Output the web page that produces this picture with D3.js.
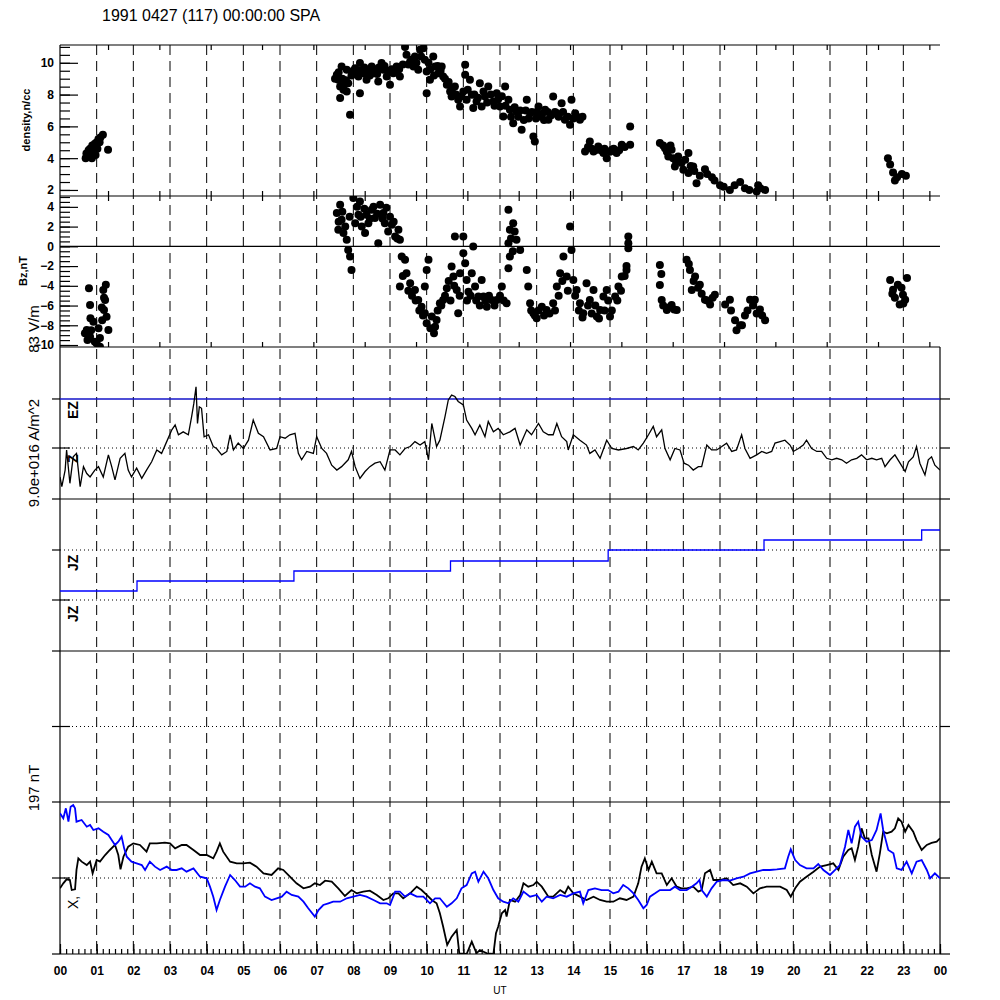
<!DOCTYPE html>
<html>
<head>
<meta charset="utf-8">
<script src="https://cdn.jsdelivr.net/npm/d3@7"></script>
<style>
  html, body { margin: 0; padding: 0; background: #fff; }
  svg { display: block; font-family: "Liberation Sans", Arial, sans-serif; }
</style>
</head>
<body>
<div id="chart"></div>
<script>
// ---- data (time in UT hours) ----
const hourLabels = ["00","01","02","03","04","05","06","07","08","09","10","11","12",
                    "13","14","15","16","17","18","19","20","21","22","23","00"];
const denTicks = [2, 4, 6, 8, 10];
const bzTicks = [-10, -8, -6, -4, -2, 0, 2, 4];

// density, n/cc
const density = [
  [0.70,4.0],[0.72,4.3],[0.75,4.1],[0.78,4.5],[0.80,4.2],[0.82,4.6],[0.85,4.4],[0.87,4.0],[0.88,4.8],[0.90,4.3],
  [0.92,4.5],[0.95,4.9],[0.97,4.2],[1.00,5.0],[1.02,4.6],[1.05,5.2],[1.08,5.0],[1.10,5.3],[1.17,5.47],[1.31,4.53],
  [7.55,9.25],[7.59,8.93],[7.64,8.51],[7.68,9.77],[7.73,8.30],[7.82,8.20],[7.64,7.78],[7.91,6.73],[7.82,9.56],[7.86,8.72],
  [8.05,9.66],[8.18,9.98],[8.14,9.14],[8.18,8.09],[8.27,9.35],[8.36,8.93],[8.41,9.56],[8.50,9.77],[8.55,9.35],[8.68,8.83],
  [8.77,9.98],[8.82,9.56],[8.91,9.14],[9.00,8.62],[9.09,9.35],[9.18,9.77],[9.27,9.14],[9.41,11.0],[9.45,10.5],[9.55,10.08],
  [9.64,9.77],[9.68,10.4],[9.77,9.56],[9.82,10.82],[9.91,10.92],[9.95,10.19],[10.0,9.45],[10.0,8.09],[10.09,8.93],[10.18,10.4],
  [10.23,9.77],[10.32,9.35],[10.41,9.77],[10.45,9.14],[10.55,8.62],[10.64,8.2],[10.68,7.88],[10.77,8.51],[10.86,7.67],[10.91,7.25],
  [11.0,8.2],[11.05,9.87],[11.05,9.25],[11.09,7.67],[11.18,8.93],[11.23,7.99],[11.27,7.15],[11.36,7.57],[11.45,8.72],[11.5,7.25],
  [11.59,7.88],[11.68,8.51],[11.82,7.57],[11.91,8.09],[12.0,7.25],[12.14,8.51],[12.23,7.67],[12.09,6.62],[12.27,7.04],[12.36,6.2],
  [12.45,6.94],[12.59,5.79],[12.73,7.67],[12.82,6.83],[12.91,5.37],[12.95,5.05],[13.05,7.25],[13.09,6.62],[13.23,7.04],[13.32,6.41],
  [13.45,7.88],[13.55,6.83],[13.68,7.46],[13.77,6.41],[13.91,6.1],[13.95,7.67],[14.05,6.83],[14.18,6.41],
  [7.5,9.0],[7.6,9.4],[7.7,9.0],[7.75,8.6],[7.8,8.9],[7.95,9.2],[8.0,9.5],[8.1,9.3],[8.2,9.5],[8.3,9.7],
  [8.45,9.2],[8.6,9.6],[8.65,9.3],[8.7,9.7],[8.85,9.8],[8.95,9.5],[9.05,9.6],[9.15,9.4],[9.25,9.6],[9.35,9.9],
  [9.5,9.9],[9.6,10.2],[9.72,10.0],[9.85,10.4],[10.05,10.0],[10.1,9.6],[10.2,9.2],[10.3,9.8],[10.38,9.5],[10.5,9.0],
  [10.6,8.8],[10.7,8.4],[10.8,8.0],[10.95,7.9],[11.12,8.3],[11.3,8.0],[11.4,7.8],[11.55,8.2],[11.65,7.5],[11.75,8.0],
  [11.85,7.3],[11.95,7.7],[12.05,7.9],[12.15,7.3],[12.3,6.6],[12.4,7.2],[12.5,6.6],[12.55,7.0],[12.65,6.4],[12.7,7.0],
  [12.78,6.5],[12.87,6.9],[12.98,6.5],[13.0,6.9],[13.15,6.8],[13.2,6.4],[13.3,6.9],[13.4,6.7],[13.5,6.9],[13.6,6.6],
  [13.72,6.9],[13.85,6.6],[14.0,6.5],[14.1,6.6],[14.25,6.6],
  [14.32,4.42],[14.45,5.05],[14.55,4.42],[14.68,4.74],[14.82,4.32],[14.91,4.0],[15.05,4.53],[15.18,4.32],[15.32,4.84],[15.55,4.84],[15.55,6.0],
  [14.4,4.7],[14.5,4.6],[14.6,4.5],[14.75,4.5],[14.85,4.6],[15.0,4.4],[15.1,4.6],[15.25,4.5],[15.4,4.7],
  [16.36,4.95],[16.5,4.63],[16.59,4.11],[16.68,4.53],[16.77,3.48],[16.86,4.11],[17.0,3.27],[17.14,3.06],[17.14,4.32],[17.27,3.48],[17.36,2.43],
  [16.45,4.8],[16.55,4.4],[16.65,4.8],[16.72,4.0],[16.8,3.8],[16.95,3.7],[17.05,3.9],[17.2,3.5],[17.3,3.2],[17.45,2.9],
  [17.59,3.3],[17.78,2.8],[18.0,2.3],[18.27,2.0],[18.55,2.5],[18.68,2.1],[19.0,1.9],[19.04,2.3],[19.23,2.0],
  [17.65,3.0],[17.85,2.6],[18.1,2.2],[18.4,2.3],[18.8,2.0],[19.1,2.1],
  [22.58,4.0],[22.64,3.6],[22.72,3.1],[22.77,2.6],[22.83,2.8],[22.96,3.0],[23.07,2.9]
];

// Bz, nT
const bz = [
  [0.79,-4.24],[0.82,-5.94],[0.83,-7.29],[0.73,-8.48],[0.82,-9.16],[1.0,-9.83],[1.09,-9.3],[0.91,-7.63],[1.18,-4.42],[1.25,-3.9],
  [1.23,-5.43],[1.2,-6.45],[1.27,-7.13],[1.32,-8.48],[1.14,-6.2],[0.68,-8.8],[1.05,-8.3],[0.95,-9.66],[1.09,-10.17],
  [0.75,-9.5],[0.85,-8.5],[1.15,-7.5],[1.2,-5.2],
  [7.55,3.37],[7.59,1.67],[7.64,4.21],[7.68,2.69],[7.73,1.34],[7.82,0.66],[7.86,-0.36],[7.91,-1.03],[7.95,-2.39],[8.0,4.89],
  [8.05,2.35],[8.14,3.2],[8.18,4.55],[8.23,2.01],[8.32,1.34],[8.36,3.2],[8.41,2.35],[8.5,3.71],[8.59,2.86],[8.68,0.32],
  [8.73,4.21],[8.82,3.37],[8.86,2.35],[8.95,1.51],[9.05,2.18],[9.14,1.0],[9.23,1.67],[9.27,0.66],[9.32,-1.03],[9.41,-1.37],
  [9.27,-4.08],[9.45,-2.73],[9.55,-3.74],[9.68,-4.42],[9.77,-5.43],[9.86,-6.11],[9.95,-6.78],[10.05,-1.37],[10.0,-2.39],[9.95,-4.08],
  [10.14,-7.12],[10.23,-8.14],[10.27,-7.46],[10.36,-5.77],[10.45,-5.43],[10.55,-4.25],[10.68,-2.05],[10.73,-3.06],[10.77,1.0],[10.82,-4.42],
  [10.86,-6.78],[10.91,-2.73],[11.0,1.0],[11.0,-0.69],[11.05,-1.71],[11.09,-3.4],[11.14,-4.59],[11.23,-2.73],[11.27,-0.02],[11.32,-4.08],
  [11.41,-5.09],[11.5,-3.4],[11.55,-5.09],[11.64,-6.11],[11.77,-5.43],[11.91,-5.43],[12.05,-4.08],[12.18,-5.77],[12.23,3.71],[12.27,1.67],
  [12.23,0.32],[12.27,-1.03],[12.36,2.35],[12.45,0.66],[12.55,-0.36],[12.23,-2.22],[12.73,-2.39],[12.77,-4.08],[12.82,-5.77],[12.91,-6.78],
  [13.0,-7.29],[13.14,-6.11],[13.27,-6.45],[13.45,-5.77],[13.55,-4.08],[13.64,-2.73],[13.73,-1.03],[13.82,-3.06],[13.91,2.01],[13.95,-0.36],
  [14.0,-3.4],[14.09,-4.42],[14.18,-5.77],[14.27,-6.78],[14.36,-3.74],[14.45,-5.43],[14.55,-4.42],[14.64,-7.12],[14.73,-6.45],[14.82,-5.09],
  [14.91,-4.42],[15.0,-7.12],[15.14,-5.09],[15.23,-4.08],[15.32,-3.06],[15.45,-2.39],[15.5,1.0],[15.5,-0.19],
  [7.6,2.5],[7.7,3.5],[7.78,2.0],[7.9,3.0],[8.1,4.0],[8.2,3.0],[8.3,3.8],[8.45,2.8],[8.55,4.0],[8.65,3.3],
  [8.8,2.8],[8.9,3.9],[9.0,3.0],[9.1,2.5],[9.2,0.8],[9.35,-3.0],[9.5,-4.5],[9.6,-5.0],[9.7,-5.5],[9.8,-6.5],
  [9.9,-7.0],[10.0,-7.8],[10.1,-8.3],[10.2,-8.8],[10.3,-6.5],[10.4,-6.0],[10.5,-5.0],[10.6,-3.5],[10.65,-5.5],[10.75,-4.0],
  [10.9,-5.0],[11.1,-5.5],[11.2,-5.0],[11.35,-5.5],[11.45,-6.0],[11.6,-5.5],[11.7,-5.0],[11.85,-6.0],[12.0,-5.0],[12.1,-5.5],
  [12.3,0.8],[12.35,-0.5],[12.4,1.5],[12.85,-6.5],[12.95,-7.0],[13.05,-6.5],[13.2,-7.0],[13.35,-6.8],[13.5,-6.5],[13.6,-5.0],
  [13.7,-3.5],[13.85,-4.5],[14.05,-5.0],[14.15,-6.5],[14.25,-7.2],[14.4,-6.0],[14.5,-6.8],[14.6,-6.0],[14.7,-7.3],[14.85,-6.5],
  [14.95,-5.5],[15.05,-6.5],[15.2,-5.5],[15.3,-4.5],[15.4,-3.0],[15.45,-2.0],[15.5,0.3],
  [16.36,-1.88],[16.36,-3.91],[16.41,-5.43],[16.55,-6.45],[16.68,-5.94],[16.82,-6.45],[17.09,-1.37],[17.18,-2.39],[17.23,-4.42],[17.32,-3.06],
  [16.4,-2.8],[16.45,-6.0],[16.6,-6.2],[16.75,-6.4],[17.15,-1.8],[17.28,-3.5],[17.4,-4.2],[17.5,-4.8],[17.65,-5.5],[17.8,-5.2],
  [17.45,-3.9],[17.59,-5.4],[17.73,-5.9],[17.86,-4.9],[18.14,-5.9],[18.27,-5.4],[18.41,-7.5],[18.55,-8.0],[18.68,-7.0],[18.82,-5.4],
  [18.95,-5.4],[19.09,-6.4],[19.23,-7.5],[18.3,-6.5],[18.45,-8.5],[18.6,-8.0],[18.75,-6.5],[18.9,-6.0],[19.0,-6.8],[19.15,-7.0],
  [22.64,-3.4],[22.72,-4.4],[22.85,-3.9],[22.99,-4.9],[23.05,-5.4],[23.1,-3.2],[22.77,-5.2],[22.9,-5.9],[22.7,-4.8],[22.95,-4.2],[23.0,-5.8]
];

// EZ trace (dotted reference = 0, blue reference = 1)
const ez = [
  [0,-0.59],[0.05,-0.79],[0.14,-0.45],[0.18,-0.04],[0.27,-0.72],[0.36,-0.18],[0.45,-0.11],[0.55,-0.79],[0.64,-0.38],[0.73,-0.52],
  [0.82,-0.59],[0.95,-0.45],[1.05,-0.38],[1.18,-0.59],[1.32,-0.14],[1.41,-0.38],[1.5,-0.65],[1.64,-0.21],[1.77,-0.11],[1.86,-0.45],
  [1.95,-0.59],[2.09,-0.41],[2.23,-0.62],[2.36,-0.45],[2.5,-0.28],[2.64,-0.04],[2.77,-0.11],[2.91,0.13],[3.05,0.37],[3.14,0.47],
  [3.23,0.27],[3.36,0.33],[3.5,0.27],[3.59,0.64],[3.65,0.91],[3.71,1.25],[3.75,0.5],[3.8,0.84],[3.86,0.81],[3.93,0.23],
  [4.05,0.27],[4.18,0.03],[4.27,-0.01],[4.41,-0.14],[4.55,-0.07],[4.64,0.27],[4.73,-0.04],[4.86,0.10],[5.0,-0.01],[5.14,0.16],
  [5.27,0.57],[5.41,0.30],[5.55,0.23],[5.73,-0.04],[5.91,-0.01],[6.0,0.23],[6.14,0.20],[6.27,0.27],[6.41,0.30],[6.5,-0.11],
  [6.59,-0.24],[6.73,-0.07],[6.91,-0.11],[7.0,0.23],[7.14,-0.01],[7.27,-0.11],[7.41,-0.35],[7.55,-0.45],[7.68,-0.38],[7.86,-0.24],
  [7.95,-0.07],[8.05,-0.38],[8.18,-0.62],[8.32,-0.48],[8.45,-0.38],[8.59,-0.31],[8.73,-0.28],[8.86,-0.45],[9.0,-0.04],[9.14,-0.04],
  [9.27,-0.14],[9.41,-0.01],[9.55,0.03],[9.68,0.13],[9.82,0.06],[9.95,0.13],[10.05,-0.24],[10.14,0.50],[10.27,0.03],[10.36,0.16],
  [10.5,0.64],[10.59,0.98],[10.68,1.08],[10.77,1.05],[10.86,0.95],[11.0,0.88],[11.09,0.57],[11.23,0.40],[11.32,0.27],
  [11.45,0.47],[11.59,0.23],[11.68,0.54],[11.82,0.33],[11.95,0.40],[12.09,0.27],[12.27,0.33],[12.41,0.40],[12.55,0.06],[12.73,0.37],
  [12.86,0.27],[13.05,0.50],[13.18,0.33],[13.32,0.27],[13.45,0.27],[13.55,0.50],[13.68,0.23],[13.82,0.13],[13.86,-0.04],[14.0,0.27],
  [14.18,0.16],[14.36,0.06],[14.45,-0.11],[14.59,-0.04],[14.73,-0.21],[14.91,0.16],[15.05,-0.01],[15.23,-0.04],[15.45,-0.01],[15.64,0.03],
  [15.77,-0.04],[15.91,0.10],[16.05,0.27],[16.18,0.44],[16.27,0.23],[16.41,0.37],[16.5,-0.01],[16.64,-0.24],[16.77,-0.01],[16.91,-0.04],
  [17.02,-0.31],[17.14,-0.35],[17.27,-0.45],[17.41,-0.38],[17.5,-0.38],[17.64,0.06],[17.77,-0.04],[17.91,-0.04],[18.05,0.03],[18.18,0.10],
  [18.32,-0.07],[18.45,-0.04],[18.59,0.27],[18.68,-0.01],[18.82,-0.21],[19.0,-0.14],[19.14,-0.07],[19.27,-0.11],[19.41,-0.07],[19.5,0.10],
  [19.64,0.13],[19.77,0.16],[19.91,0.06],[20.0,-0.07],[20.14,-0.01],[20.27,0.06],[20.36,0.16],[20.5,-0.01],[20.64,-0.07],[20.77,-0.07],
  [20.91,-0.21],[21.05,-0.24],[21.18,-0.21],[21.32,-0.24],[21.45,-0.31],[21.59,-0.24],[21.73,-0.21],[21.86,-0.14],[22.0,-0.24],[22.14,-0.21],
  [22.27,-0.24],[22.41,-0.21],[22.5,-0.38],[22.64,-0.24],[22.77,-0.14],[22.91,-0.31],[23.05,-0.48],[23.14,-0.28],[23.27,-0.18],[23.36,0.03],
  [23.45,-0.31],[23.59,-0.55],[23.68,-0.24],[23.77,-0.18],[23.86,-0.35],[24.0,-0.45]
];

// JZ step trace: level starts at each time
const jzTimes = [0, 2.1, 6.38, 10.65, 14.95, 19.2, 23.5, 24];
const jzLevels = [0.18, 0.38, 0.58, 0.78, 1.0, 1.2, 1.4, 1.4];

// magnetometer X component, nT (black) and second trace (blue)
const magBlack = [
  [0,-13.4],[0.09,-6.9],[0.18,-1.7],[0.27,-2.6],[0.32,-15.6],[0.41,-14.7],[0.45,10.4],[0.5,25.5],[0.59,21.2],[0.73,16.8],
  [0.82,21.2],[0.89,6.0],[1.0,23.3],[1.09,21.2],[1.23,29.8],[1.36,36.3],[1.5,42.8],[1.59,29.8],[1.65,11.2],[1.73,27.6],
  [1.86,40.6],[2.0,44.9],[2.18,42.8],[2.36,34.1],[2.45,44.9],[2.64,44.9],[2.86,45.8],[3.0,44.9],[3.14,38.4],[3.32,42.8],
  [3.45,42.8],[3.64,36.3],[3.82,29.8],[4.0,29.8],[4.18,25.5],[4.27,34.1],[4.36,44.9],[4.45,34.1],[4.64,21.2],[4.82,19.0],
  [5.0,19.0],[5.18,19.9],[5.36,14.7],[5.55,6.0],[5.77,3.9],[5.95,12.5],[6.09,10.4],[6.27,1.7],[6.45,-6.9],[6.64,-13.4],
  [6.82,-11.2],[6.95,-6.9],[7.09,-9.1],[7.23,-3.5],[7.41,-4.8],[7.59,-13.4],[7.77,-23.3],[7.95,-15.6],[8.09,-19.9],[8.27,-17.7],
  [8.45,-16.4],[8.64,-22.0],[8.82,-28.5],[8.95,-26.3],[9.09,-19.9],[9.23,-19.9],[9.36,-26.3],[9.55,-19.9],[9.73,-11.2],[9.86,-15.6],
  [10.0,-22.0],[10.14,-28.5],[10.27,-32.8],[10.36,-45.8],[10.45,-63.1],[10.56,-86.8],[10.68,-76.0],[10.82,-67.4],[10.89,-97.6],[11.09,-98.5],
  [11.23,-82.5],[11.36,-97.6],[11.45,-93.3],[11.64,-97.6],[11.82,-98.5],[11.89,-71.7],[11.95,-63.1],[12.05,-45.8],[12.14,-41.5],[12.18,-50.1],
  [12.27,-28.5],[12.41,-30.7],[12.55,-22.0],[12.64,-6.9],[12.77,-11.2],[12.91,-9.1],[13.0,-4.8],[13.14,-11.2],[13.32,-24.2],[13.45,-24.2],
  [13.64,-15.6],[13.77,-19.9],[13.86,-11.2],[14.0,-19.9],[14.18,-24.2],[14.36,-28.5],[14.55,-24.2],[14.73,-28.5],[14.91,-30.7],[15.09,-30.7],
  [15.27,-26.3],[15.45,-28.5],[15.64,-24.2],[15.77,-6.9],[15.86,14.7],[15.95,25.5],[16.05,10.4],[16.14,21.2],[16.27,6.0],[16.41,6.0],
  [16.55,-9.1],[16.68,-0.4],[16.82,-11.2],[16.95,-13.4],[17.09,-13.4],[17.27,-11.2],[17.41,-17.7],[17.5,-15.6],[17.59,6.0],[17.73,10.4],
  [17.82,-2.6],[18.0,-2.6],[18.18,-0.4],[18.36,-9.1],[18.55,-6.9],[18.73,-11.2],[18.91,-19.9],[19.09,-13.4],[19.27,-11.2],[19.45,-11.2],
  [19.64,-11.2],[19.82,-15.6],[19.93,-24.2],[20.05,-13.4],[20.18,-4.8],[20.36,1.7],[20.55,8.2],[20.73,14.7],[20.91,16.8],[21.09,19.0],
  [21.23,10.4],[21.36,27.6],[21.5,36.3],[21.59,38.4],[21.68,23.3],[21.77,40.6],[21.86,64.4],[21.95,51.4],[22.05,51.4],[22.14,29.8],
  [22.27,8.2],[22.36,32.0],[22.45,60.0],[22.55,57.9],[22.68,60.0],[22.77,64.4],[22.86,77.3],[22.95,73.0],[23.05,60.0],[23.14,68.7],
  [23.27,60.0],[23.36,49.2],[23.5,36.3],[23.64,42.8],[23.77,45.4],[23.91,47.1],[24.0,51.4]
];
const magBlue = [
  [0,83.8],[0.09,77.3],[0.16,90.3],[0.23,73.0],[0.29,92.4],[0.36,94.6],[0.41,90.3],[0.45,73.0],[0.59,75.2],[0.73,66.5],
  [0.82,68.7],[0.91,62.2],[1.05,64.4],[1.18,60.0],[1.32,55.7],[1.41,49.2],[1.5,42.8],[1.59,47.1],[1.68,53.6],[1.75,38.4],
  [1.82,27.6],[1.95,21.2],[2.09,19.0],[2.23,16.8],[2.32,10.4],[2.45,21.2],[2.59,14.7],[2.73,10.4],[2.91,14.7],[3.05,10.4],
  [3.18,10.4],[3.32,12.5],[3.45,8.2],[3.64,12.5],[3.82,1.7],[4.0,-0.4],[4.09,-11.2],[4.18,-24.2],[4.27,-41.5],[4.36,-28.5],
  [4.5,-11.2],[4.64,3.9],[4.77,-2.6],[4.91,-11.2],[5.05,-11.2],[5.18,-6.9],[5.32,-11.2],[5.45,-13.4],[5.59,-24.2],[5.77,-28.5],
  [5.91,-26.3],[6.05,-24.2],[6.18,-17.7],[6.32,-22.0],[6.5,-24.2],[6.64,-30.7],[6.77,-39.3],[6.95,-50.1],[7.05,-41.5],[7.18,-35.0],
  [7.32,-32.8],[7.45,-30.7],[7.64,-30.7],[7.82,-26.3],[8.0,-24.2],[8.18,-22.0],[8.36,-24.2],[8.55,-28.5],[8.73,-32.8],[8.91,-32.8],
  [9.0,-35.0],[9.14,-17.7],[9.27,-17.7],[9.41,-24.2],[9.55,-19.9],[9.73,-24.2],[9.91,-24.2],[10.09,-32.8],[10.23,-26.3],[10.36,-26.3],
  [10.55,-37.2],[10.68,-32.8],[10.82,-26.3],[10.95,-13.4],[11.09,-9.1],[11.23,6.0],[11.32,8.2],[11.41,-4.8],[11.55,8.2],[11.68,-0.4],
  [11.82,-15.6],[11.95,-26.3],[12.09,-30.7],[12.23,-32.8],[12.36,-26.3],[12.5,-30.7],[12.64,-17.7],[12.82,-24.2],[13.0,-22.0],[13.14,-30.7],
  [13.27,-24.2],[13.45,-26.3],[13.64,-22.0],[13.82,-24.2],[14.0,-19.9],[14.18,-17.7],[14.27,-32.8],[14.41,-15.6],[14.59,-13.4],[14.77,-15.6],
  [14.95,-15.6],[15.09,-19.9],[15.23,-17.7],[15.36,-9.1],[15.5,-13.4],[15.64,-19.9],[15.77,-28.5],[15.91,-39.3],[16.0,-35.0],[16.09,-24.2],
  [16.23,-19.9],[16.36,-15.6],[16.5,-15.6],[16.64,-15.6],[16.77,-11.2],[16.91,-15.6],[17.09,-15.6],[17.23,-11.2],[17.36,-6.9],[17.44,-2.6],
  [17.5,-15.6],[17.64,-24.2],[17.77,-13.4],[17.91,-4.8],[18.09,-2.6],[18.27,-3.5],[18.45,-0.4],[18.64,1.7],[18.82,6.0],[19.0,8.2],
  [19.18,10.4],[19.36,10.4],[19.55,11.2],[19.77,12.5],[19.86,27.6],[19.93,37.1],[20.05,23.3],[20.18,16.8],[20.36,12.5],[20.55,12.5],
  [20.68,18.1],[20.82,10.4],[21.0,3.9],[21.14,10.4],[21.27,16.8],[21.41,40.6],[21.5,62.2],[21.59,44.9],[21.68,66.5],[21.77,73.0],
  [21.86,53.6],[22.0,47.1],[22.14,49.2],[22.27,62.2],[22.38,83.8],[22.45,62.2],[22.59,36.3],[22.73,32.0],[22.82,12.5],[22.95,10.4],
  [23.09,21.2],[23.23,6.0],[23.36,21.2],[23.5,23.3],[23.64,10.4],[23.73,-0.4],[23.86,6.0],[24.0,-0.4]
];

// ---- layout ----
const width = 1000, height = 1000;
const left = 60, right = 940;

const x = d3.scaleLinear().domain([0, 24]).range([left, right]);
const yDen = d3.scaleLinear().domain([1.62, 11.12]).range([196, 45]);
const yBz = d3.scaleLinear().domain([-10.2, 5.1]).range([347, 196]);
const yEz = d3.scaleLinear().domain([-1.04, 2.06]).range([499, 347]);
const yJz = d3.scaleLinear().domain([-1.02, 2.02]).range([651, 499]);
const yEmpty = d3.scaleLinear().domain([-1, 1]).range([802, 651]);
const yMag = d3.scaleLinear().domain([-98.5, 98.5]).range([954, 802]);

const svg = d3.select("#chart").append("svg")
    .attr("width", width)
    .attr("height", height);

const defs = svg.append("defs");
function addClip(id, top, bottom) {
  defs.append("clipPath").attr("id", id)
    .append("rect")
      .attr("x", left).attr("y", top)
      .attr("width", right - left).attr("height", bottom - top);
}
addClip("clipDen", 45, 196);
addClip("clipBz", 196, 347);
addClip("clipEz", 347, 499);
addClip("clipMag", 802, 954);

// title
svg.append("text")
    .attr("x", 102).attr("y", 21)
    .attr("font-size", 16)
    .text("1991 0427 (117) 00:00:00 SPA");

// dashed hour lines
svg.append("g").selectAll("line")
    .data(d3.range(1, 24))
  .enter().append("line")
    .attr("x1", function(d) { return x(d); })
    .attr("x2", function(d) { return x(d); })
    .attr("y1", 45).attr("y2", 954)
    .attr("stroke", "#000")
    .attr("stroke-dasharray", "10,6");

// reference lines in the lower panels
const dotted = [
  {y: yEz(0)}, {y: yJz(1)}, {y: yJz(0)}, {y: yEmpty(0)}, {y: yMag(0)}
];
svg.append("g").selectAll("line")
    .data(dotted)
  .enter().append("line")
    .attr("x1", left).attr("x2", right)
    .attr("y1", function(d) { return d.y; })
    .attr("y2", function(d) { return d.y; })
    .attr("stroke", "#000")
    .attr("stroke-dasharray", "1,3");

// outward ticks + solid separators
const levels = [yEz(1), yEz(0), 499, yJz(1), yJz(0), 651, yEmpty(0), 802, yMag(0), 954];
const frame = svg.append("g").attr("stroke", "#000").attr("stroke-width", 1.2);
levels.forEach(function(ly) {
  frame.append("line").attr("x1", 52).attr("x2", left).attr("y1", ly).attr("y2", ly);
  frame.append("line").attr("x1", right).attr("x2", 950).attr("y1", ly).attr("y2", ly);
});
[yEz(0), yJz(0), yEmpty(0), yMag(0)].forEach(function(ly) {
  frame.append("line").attr("x1", left).attr("x2", 70).attr("y1", ly).attr("y2", ly);
});
[45, 196, 347, yBz(0), 499, 651, 802, 954].forEach(function(ly) {
  frame.append("line").attr("x1", left).attr("x2", right).attr("y1", ly).attr("y2", ly);
});
frame.append("line").attr("x1", left).attr("x2", left).attr("y1", 45).attr("y2", 954);
frame.append("line").attr("x1", right).attr("x2", right).attr("y1", 347).attr("y2", 954);

// blue reference line in the EZ panel
svg.append("line")
    .attr("x1", left).attr("x2", right)
    .attr("y1", yEz(1)).attr("y2", yEz(1))
    .attr("stroke", "#1414c8")
    .attr("stroke-width", 1.5);

// y axes for the scatter panels
function styleAxis(g) {
  g.select(".domain").remove();
  g.attr("font-family", null).attr("font-size", 12).attr("font-weight", "bold");
  g.selectAll("line").attr("stroke-width", 1.2);
}
svg.append("g")
    .attr("transform", "translate(" + left + ",0)")
    .call(d3.axisLeft(yDen).tickValues(d3.range(2, 11.01, 0.5)).tickSize(-10).tickFormat(""))
    .call(styleAxis);
svg.append("g")
    .attr("transform", "translate(" + left + ",0)")
    .call(d3.axisLeft(yDen).tickValues(denTicks).tickSize(-18).tickPadding(6).tickFormat(d3.format("d")))
    .call(styleAxis);
svg.append("g")
    .attr("transform", "translate(" + left + ",0)")
    .call(d3.axisLeft(yBz).tickValues(d3.range(-10, 5.01, 0.5)).tickSize(-10).tickFormat(""))
    .call(styleAxis);
svg.append("g")
    .attr("transform", "translate(" + left + ",0)")
    .call(d3.axisLeft(yBz).tickValues(bzTicks).tickSize(-18).tickPadding(6).tickFormat(d3.format("d")))
    .call(styleAxis);

// small ticks on the scatter panel edges
const edgeTicks = d3.range(1.31, 24, 1.4);
[45, 196].forEach(function(ly) {
  svg.append("g").attr("transform", "translate(0," + ly + ")")
      .call(d3.axisBottom(x).tickValues(edgeTicks).tickSize(5).tickFormat(""))
      .call(styleAxis);
});
[196, 347].forEach(function(ly) {
  svg.append("g").attr("transform", "translate(0," + ly + ")")
      .call(d3.axisBottom(x).tickValues(edgeTicks).tickSize(-5).tickFormat(""))
      .call(styleAxis);
});

// scatter points
svg.append("g").attr("clip-path", "url(#clipDen)")
  .selectAll("circle")
    .data(density)
  .enter().append("circle")
    .attr("cx", function(d) { return x(d[0]); })
    .attr("cy", function(d) { return yDen(d[1]); })
    .attr("r", 4);
svg.append("g").attr("clip-path", "url(#clipBz)")
  .selectAll("circle")
    .data(bz)
  .enter().append("circle")
    .attr("cx", function(d) { return x(d[0]); })
    .attr("cy", function(d) { return yBz(d[1]); })
    .attr("r", 4);

// EZ trace
svg.append("path")
    .datum(ez)
    .attr("clip-path", "url(#clipEz)")
    .attr("fill", "none")
    .attr("stroke", "#000")
    .attr("stroke-width", 1.3)
    .attr("d", d3.line()
        .x(function(d) { return x(d[0]); })
        .y(function(d) { return yEz(d[1]); }));

// JZ steps
svg.append("path")
    .datum(d3.zip(jzTimes, jzLevels))
    .attr("fill", "none")
    .attr("stroke", "#0000ff")
    .attr("stroke-width", 1.3)
    .attr("d", d3.line()
        .curve(d3.curveStepAfter)
        .x(function(d) { return x(d[0]); })
        .y(function(d) { return yJz(d[1]); }));

// magnetometer traces
const magLine = d3.line()
    .x(function(d) { return x(d[0]); })
    .y(function(d) { return yMag(d[1]); });
svg.append("path")
    .datum(magBlack)
    .attr("clip-path", "url(#clipMag)")
    .attr("fill", "none")
    .attr("stroke", "#000")
    .attr("stroke-width", 1.8)
    .attr("d", magLine);
svg.append("path")
    .datum(magBlue)
    .attr("clip-path", "url(#clipMag)")
    .attr("fill", "none")
    .attr("stroke", "#0000ff")
    .attr("stroke-width", 1.8)
    .attr("d", magLine);

// bottom time axis
svg.append("g")
    .attr("transform", "translate(0,954)")
    .call(d3.axisBottom(x).tickValues(d3.range(0, 24.01, 1 / 6)).tickSize(-5).tickFormat(""))
    .call(styleAxis);
svg.append("g")
    .attr("transform", "translate(0,954)")
    .call(d3.axisBottom(x).tickValues(d3.range(0, 25)).tickSize(-10).tickPadding(12)
        .tickFormat(function(d) { return hourLabels[d]; }))
    .call(styleAxis);
svg.append("text")
    .attr("x", 500).attr("y", 994)
    .attr("text-anchor", "middle")
    .attr("font-size", 10)
    .text("UT");

// rotated labels
function vlabel(text, cx, cy, size, weight, anchor) {
  svg.append("text")
      .attr("transform", "translate(" + cx + "," + cy + ") rotate(-90)")
      .attr("text-anchor", anchor || "middle")
      .attr("font-size", size)
      .attr("font-weight", weight || "normal")
      .text(text);
}
vlabel("density,n/cc", 30, 120, 11, "bold");
vlabel("Bz,nT", 27, 271, 11, "bold");
vlabel("83 V/m", 39, 329, 15);
vlabel("9.0e+016 A/m^2", 39, 453, 15);
vlabel("197 nT", 39, 788, 15);
vlabel("EZ", 78, 419, 14, "bold", "start");
vlabel("Z", 78, 463, 14, "bold", "start");
vlabel("JZ", 78, 571, 14, "bold", "start");
vlabel("JZ", 78, 622, 14, "bold", "start");
vlabel("X,", 78, 909, 14, "normal", "start");
</script>
</body>
</html>
